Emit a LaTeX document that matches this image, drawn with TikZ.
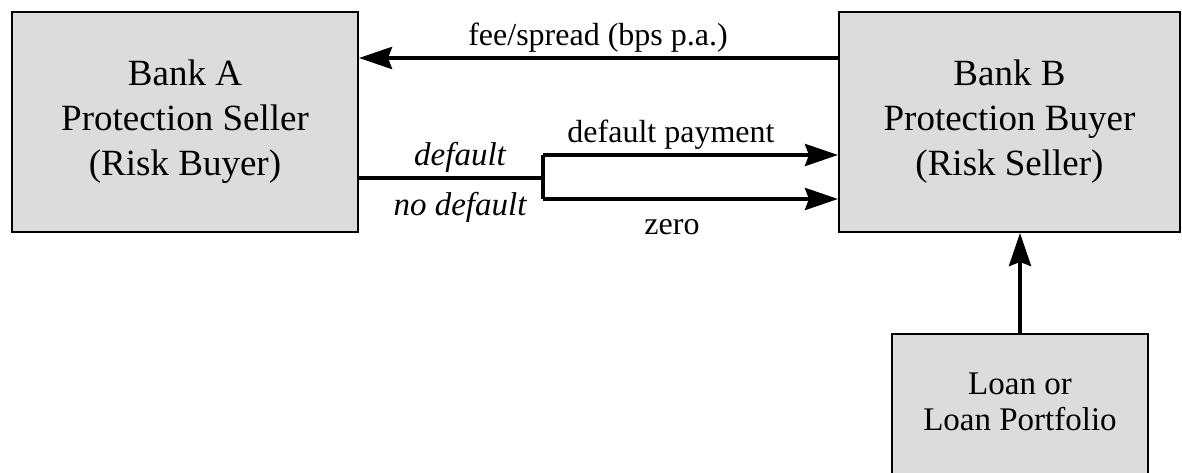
\documentclass[tikz,border=0pt]{standalone}
\usepackage{fontspec}
\setmainfont{Liberation Serif}
\usetikzlibrary{arrows.meta}
\definecolor{boxgray}{RGB}{220,220,220}
\tikzset{
  x=1pt,y=1pt,
  box/.style={draw=black,line width=2pt,fill=boxgray,inner sep=0pt,align=center},
  flow/.style={line width=4pt},
  arr/.style={flow,-{Stealth[length=33pt,width=22pt,inset=4pt]}},
  lbl/.style={inner sep=0pt,font=\fontsize{32}{38}\selectfont}
}
\begin{document}
\begin{tikzpicture}
\useasboundingbox (0,0) rectangle (1182,473);
\node[box,minimum width=346pt,minimum height=220pt,font=\fontsize{37}{45}\selectfont] (A) at (185,351) {Bank A\\Protection Seller\\(Risk Buyer)};
\node[box,minimum width=341pt,minimum height=220pt,font=\fontsize{37}{45}\selectfont] (B) at (1009.5,351) {Bank B\\Protection Buyer\\(Risk Seller)};
\node[box,minimum width=256pt,minimum height=141pt] (L) at (1020,68.5) {};
\node[inner sep=0pt,align=center,font=\fontsize{33}{36}\selectfont] (Lt) at (1020,71) {Loan or\\Loan Portfolio};
\draw[arr] ([yshift=64pt]B.west) -- ([yshift=64pt]A.east);
\coordinate (br) at (543,295);
\coordinate (up) at (543,318);
\coordinate (lo) at (543,274);
\draw[flow] ([yshift=-56pt]A.east) -- (br);
\draw[flow] (up) -- (lo);
\draw[arr] (up) -- (B.west |- up);
\draw[arr] (lo) -- (B.west |- lo);
\draw[arr] (L.north) -- (L.north |- B.south);
\node[lbl] (t1) at (598,435) {fee/spread (bps p.a.)};
\node[lbl] (t2) at (671,338) {default payment};
\node[lbl] (t3) at (672,246) {zero};
\node[lbl,font=\fontsize{33}{38}\selectfont\itshape] (t4) at (460,316) {default};
\node[lbl,font=\fontsize{33}{38}\selectfont\itshape] (t5) at (460,266) {no default};
\end{tikzpicture}
\end{document}
